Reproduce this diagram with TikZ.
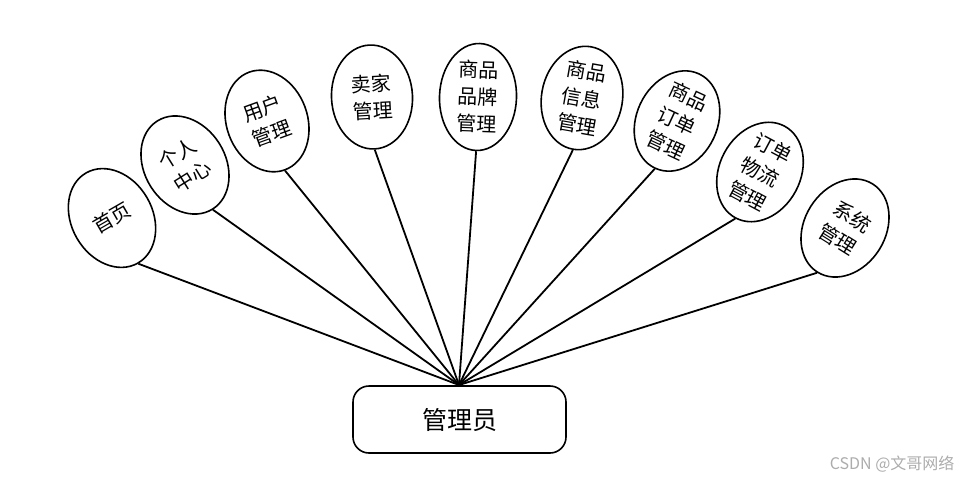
\documentclass[tikz,border=0pt]{standalone}
\usepackage{fontspec}
\newfontfamily\cjk{Noto Sans CJK SC}
\usetikzlibrary{shapes.geometric}
\tikzset{
  leaf/.style={ellipse, draw, line width=1.6pt, minimum width=81pt, minimum height=104pt, inner sep=0pt, align=center, font=\cjk\fontsize{20}{27}\selectfont},
  hubbox/.style={rectangle, rounded corners=16pt, draw, line width=1.6pt, minimum width=213pt, minimum height=67pt, font=\cjk\fontsize{25}{30}\selectfont},
  link/.style={line width=1.8pt}
}
\begin{document}
\begin{tikzpicture}[x=1pt,y=-1pt]
\useasboundingbox (0,0) rectangle (972,482);
\node[hubbox] (hub) at (459.5,419.5) {管理员};
\node[leaf, rotate=30] (e1) at (112,218) {首页};
\node[leaf, rotate=32] (e2) at (185,165) {个人\\中心};
\node[leaf, rotate=20] (e3) at (267,121) {用户\\管理};
\node[leaf, rotate=3] (e4) at (372,97) {卖家\\管理};
\node[leaf, rotate=-2, minimum width=77pt, minimum height=107pt] (e5) at (478,97) {商品\\品牌\\管理};
\node[leaf, rotate=-10] (e6) at (582,98) {商品\\信息\\管理};
\node[leaf, rotate=-25] (e7) at (677,121) {商品\\订单\\管理};
\node[leaf, rotate=-28] (e8) at (760,172) {订单\\物流\\管理};
\node[leaf, rotate=-32] (e9) at (845,228) {系统\\管理};
\coordinate (hp) at (459,385);
\foreach \e in {e1,e2,e3,e4,e5,e6,e7,e8,e9}{
  \draw[link] (hp) -- (\e.south);
}
\node[anchor=east, font=\cjk\fontsize{16}{18}\selectfont, text=gray!65] (wm) at (958,464) {CSDN @文哥网络};
\end{tikzpicture}
\end{document}
